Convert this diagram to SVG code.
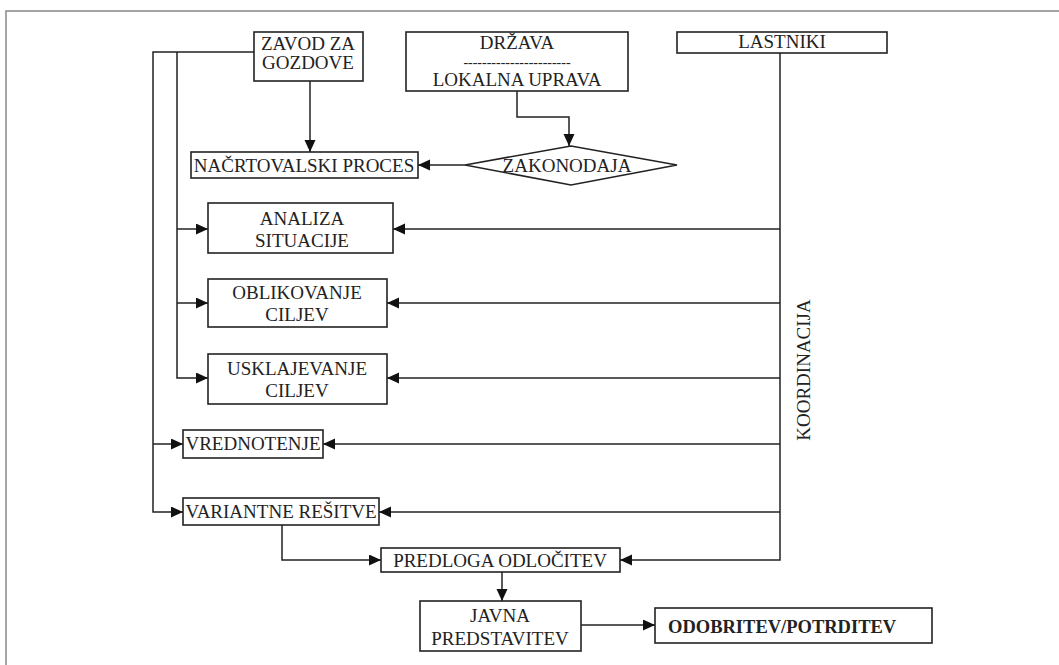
<svg xmlns="http://www.w3.org/2000/svg" width="1059" height="665" viewBox="0 0 1059 665">
<style>
.box{fill:#fff;stroke:#222;stroke-width:1.6}
.t{font-family:"Liberation Serif","Times New Roman",serif;font-size:19px;fill:#222;text-anchor:middle}
.b{font-weight:bold;text-anchor:start;font-size:18.5px}
.d{font-size:14px}
.c{fill:none;stroke:#222;stroke-width:1.5}
.frame{fill:none;stroke:#888;stroke-width:1.5}
</style>
<defs>
<marker id="ah" markerUnits="userSpaceOnUse" markerWidth="13" markerHeight="12" refX="12" refY="5.5" orient="auto">
<path d="M0,0 L12,5.5 L0,11 z" fill="#111"/>
</marker>
</defs>
<rect width="1059" height="665" fill="#fff"/>
<path class="frame" d="M6,665 V11 H1059"/>

<g id="connectors">
<path class="c" d="M310,81 V152" marker-end="url(#ah)"/>
<path class="c" d="M254,52 H153 V512 H183" marker-end="url(#ah)"/>
<path class="c" d="M153,444 H183" marker-end="url(#ah)"/>
<path class="c" d="M177,52 V378 H208" marker-end="url(#ah)"/>
<path class="c" d="M177,229 H208" marker-end="url(#ah)"/>
<path class="c" d="M177,303 H208" marker-end="url(#ah)"/>
<path class="c" d="M517,91 V117 H569 V146" marker-end="url(#ah)"/>
<path class="c" d="M465,165 H418" marker-end="url(#ah)"/>
<path class="c" d="M780,53 V560 H620" marker-end="url(#ah)"/>
<path class="c" d="M780,229 H393" marker-end="url(#ah)"/>
<path class="c" d="M780,303 H387" marker-end="url(#ah)"/>
<path class="c" d="M780,378 H387" marker-end="url(#ah)"/>
<path class="c" d="M780,444 H323" marker-end="url(#ah)"/>
<path class="c" d="M780,512 H379" marker-end="url(#ah)"/>
<path class="c" d="M282,525 V560 H381" marker-end="url(#ah)"/>
<path class="c" d="M502,572 V601" marker-end="url(#ah)"/>
<path class="c" d="M581,625 H655" marker-end="url(#ah)"/>
</g>

<g id="zavod">
<rect class="box" x="254" y="32" width="109" height="49"/>
<text class="t" x="308" y="50">ZAVOD ZA</text>
<text class="t" x="308" y="69">GOZDOVE</text>
</g>

<g id="drzava">
<rect class="box" x="406" y="32" width="222" height="59"/>
<text class="t" x="517" y="49">DRŽAVA</text>
<text class="t d" x="517" y="67">-----------------------</text>
<text class="t" x="517" y="86">LOKALNA UPRAVA</text>
</g>

<g id="lastniki">
<rect class="box" x="677" y="32" width="210" height="21"/>
<text class="t" x="782" y="48">LASTNIKI</text>
</g>

<g id="nacrtovalski">
<rect class="box" x="191" y="152" width="227" height="26"/>
<text class="t" x="304" y="172">NAČRTOVALSKI PROCES</text>
</g>

<g id="zakonodaja">
<polygon class="box" points="465,165 571,146 677,165 571,185"/>
<text class="t" x="567" y="172">ZAKONODAJA</text>
</g>

<g id="analiza">
<rect class="box" x="208" y="203" width="185" height="50"/>
<text class="t" x="302" y="225">ANALIZA</text>
<text class="t" x="302" y="247">SITUACIJE</text>
</g>

<g id="oblikovanje">
<rect class="box" x="208" y="279" width="179" height="48"/>
<text class="t" x="297" y="299">OBLIKOVANJE</text>
<text class="t" x="297" y="321">CILJEV</text>
</g>

<g id="usklajevanje">
<rect class="box" x="208" y="354" width="179" height="50"/>
<text class="t" x="297" y="375">USKLAJEVANJE</text>
<text class="t" x="297" y="397">CILJEV</text>
</g>

<g id="vrednotenje">
<rect class="box" x="183" y="430" width="140" height="28"/>
<text class="t" x="253" y="450">VREDNOTENJE</text>
</g>

<g id="variantne">
<rect class="box" x="183" y="498" width="196" height="27"/>
<text class="t" x="281" y="518">VARIANTNE REŠITVE</text>
</g>

<g id="predloga">
<rect class="box" x="381" y="548" width="239" height="24"/>
<text class="t" x="500" y="567">PREDLOGA ODLOČITEV</text>
</g>

<g id="javna">
<rect class="box" x="420" y="601" width="161" height="50"/>
<text class="t" x="500" y="622">JAVNA</text>
<text class="t" x="500" y="645">PREDSTAVITEV</text>
</g>

<g id="odobritev">
<rect class="box" x="655" y="608" width="277" height="35"/>
<text class="t b" x="668" y="633">ODOBRITEV/POTRDITEV</text>
</g>

<g id="koordinacija">
<text class="t" transform="translate(810,370) rotate(-90)">KOORDINACIJA</text>
</g>
</svg>
